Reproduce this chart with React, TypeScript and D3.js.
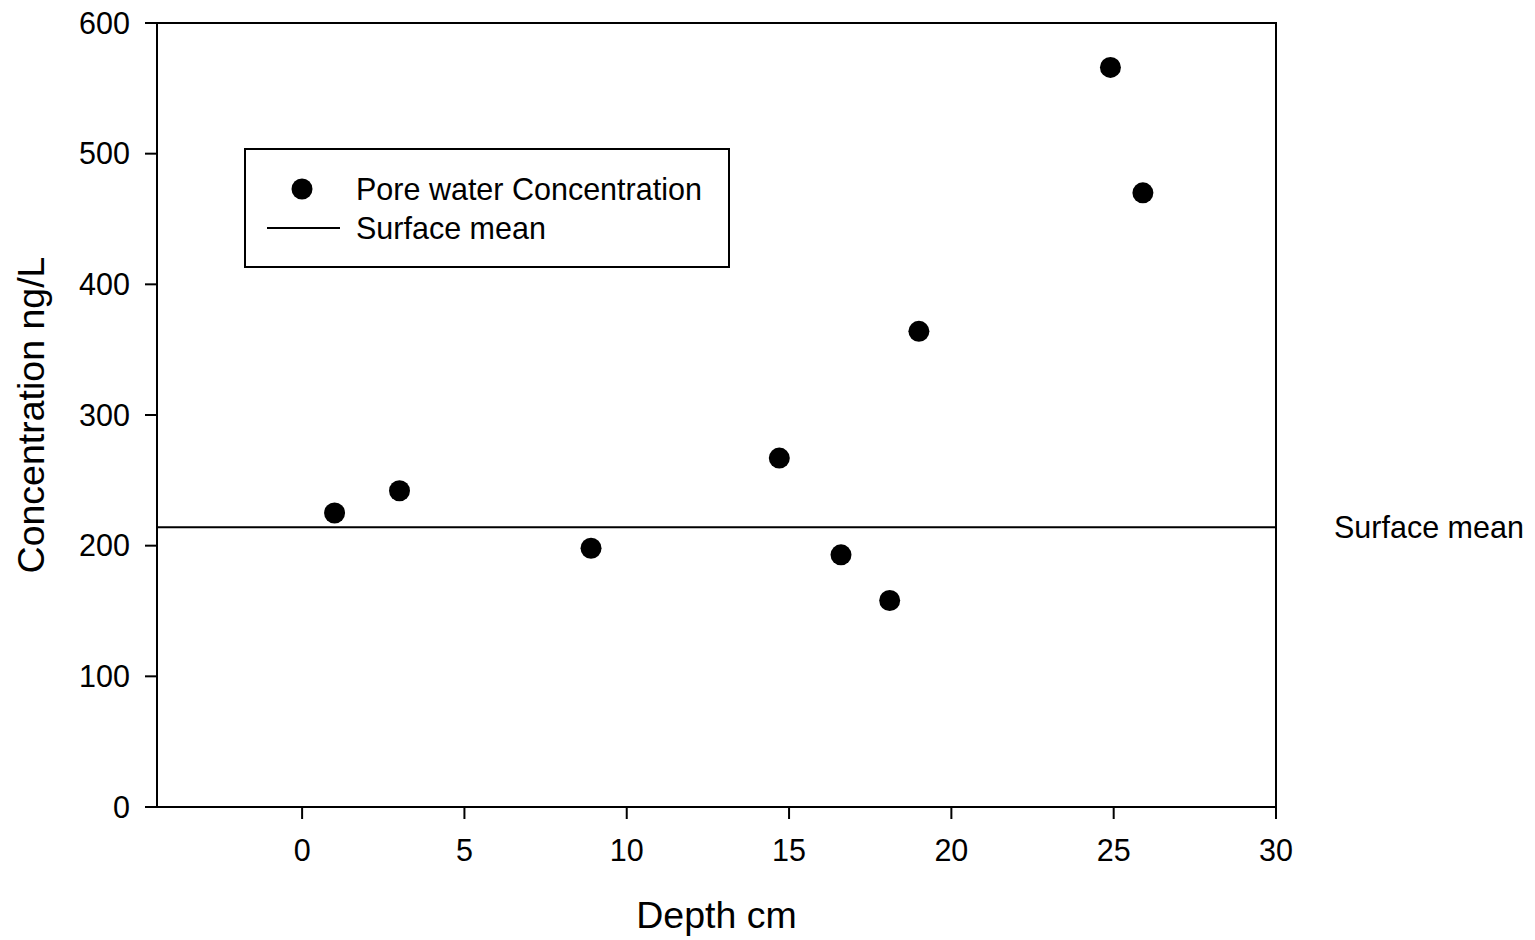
import React from "react";
import * as d3 from "d3";

const depthCm = [1.0, 3.0, 8.9, 14.7, 16.6, 18.1, 19.0, 24.9, 25.9];
const concentration = [225, 242, 198, 267, 193, 158, 364, 566, 470];
const surfaceMean = 214;
const xTicks = [0, 5, 10, 15, 20, 25, 30];
const yTicks = [0, 100, 200, 300, 400, 500, 600];
const seriesName = "Pore water Concentration";
const meanName = "Surface mean";
const xTitle = "Depth cm";
const yTitle = "Concentration ng/L";

const W = 1535;
const H = 940;
const L = 157, R = 1276, T = 23, B = 807;
const FONT = "'Liberation Sans', Arial, sans-serif";
const FS = 30.5;
const TFS = 37.5;

export default function App() {
  const x = d3.scaleLinear().domain([-4.47, 30]).range([L, R]);
  const y = d3.scaleLinear().domain([0, 600]).range([B, T]);
  const pts = depthCm.map((d, i) => ({ d, c: concentration[i] }));
  const meanLine = d3.line<[number, number]>()([
    [x(-4.47), y(surfaceMean)],
    [x(30), y(surfaceMean)],
  ]);
  return (
    <svg
      width={W}
      height={H}
      style={{ position: "absolute", left: 0, top: 0, background: "#fff" }}
      fontFamily={FONT}
    >
      <rect x={0} y={0} width={W} height={H} fill="#fff" />
      {/* mean line */}
      <path d={meanLine || ""} stroke="#000" strokeWidth={2} fill="none" />
      {/* frame */}
      <rect x={L} y={T} width={R - L} height={B - T} fill="none" stroke="#000" strokeWidth={2} />
      {/* y ticks */}
      {yTicks.map((t) => (
        <g key={"y" + t}>
          <line x1={L - 12} x2={L} y1={y(t)} y2={y(t)} stroke="#000" strokeWidth={2} />
          <text x={130} y={y(t) + 10.5} textAnchor="end" fontSize={FS} fill="#000">
            {t}
          </text>
        </g>
      ))}
      {/* x ticks */}
      {xTicks.map((t) => (
        <g key={"x" + t}>
          <line x1={x(t)} x2={x(t)} y1={B} y2={B + 12} stroke="#000" strokeWidth={2} />
          <text x={x(t)} y={861} textAnchor="middle" fontSize={FS} fill="#000">
            {t}
          </text>
        </g>
      ))}
      {/* points */}
      {pts.map((p, i) => (
        <circle key={i} cx={x(p.d)} cy={y(p.c)} r={10.5} fill="#000" />
      ))}
      {/* right label */}
      <text x={1334} y={y(surfaceMean) + 10.5} fontSize={FS} fill="#000">
        {meanName}
      </text>
      {/* axis titles */}
      <text x={(L + R) / 2} y={928} textAnchor="middle" fontSize={TFS} fill="#000">
        {xTitle}
      </text>
      <text
        transform={`translate(44, ${(T + B) / 2}) rotate(-90)`}
        textAnchor="middle"
        fontSize={TFS}
        fill="#000"
      >
        {yTitle}
      </text>
      {/* legend */}
      <rect x={245} y={149} width={484} height={118} fill="#fff" stroke="#000" strokeWidth={2} />
      <circle cx={302} cy={189} r={10.5} fill="#000" />
      <text x={356} y={199.5} fontSize={FS} fill="#000">
        {seriesName}
      </text>
      <line x1={267} x2={340} y1={228} y2={228} stroke="#000" strokeWidth={2} />
      <text x={356} y={238.5} fontSize={FS} fill="#000">
        {meanName}
      </text>
    </svg>
  );
}
